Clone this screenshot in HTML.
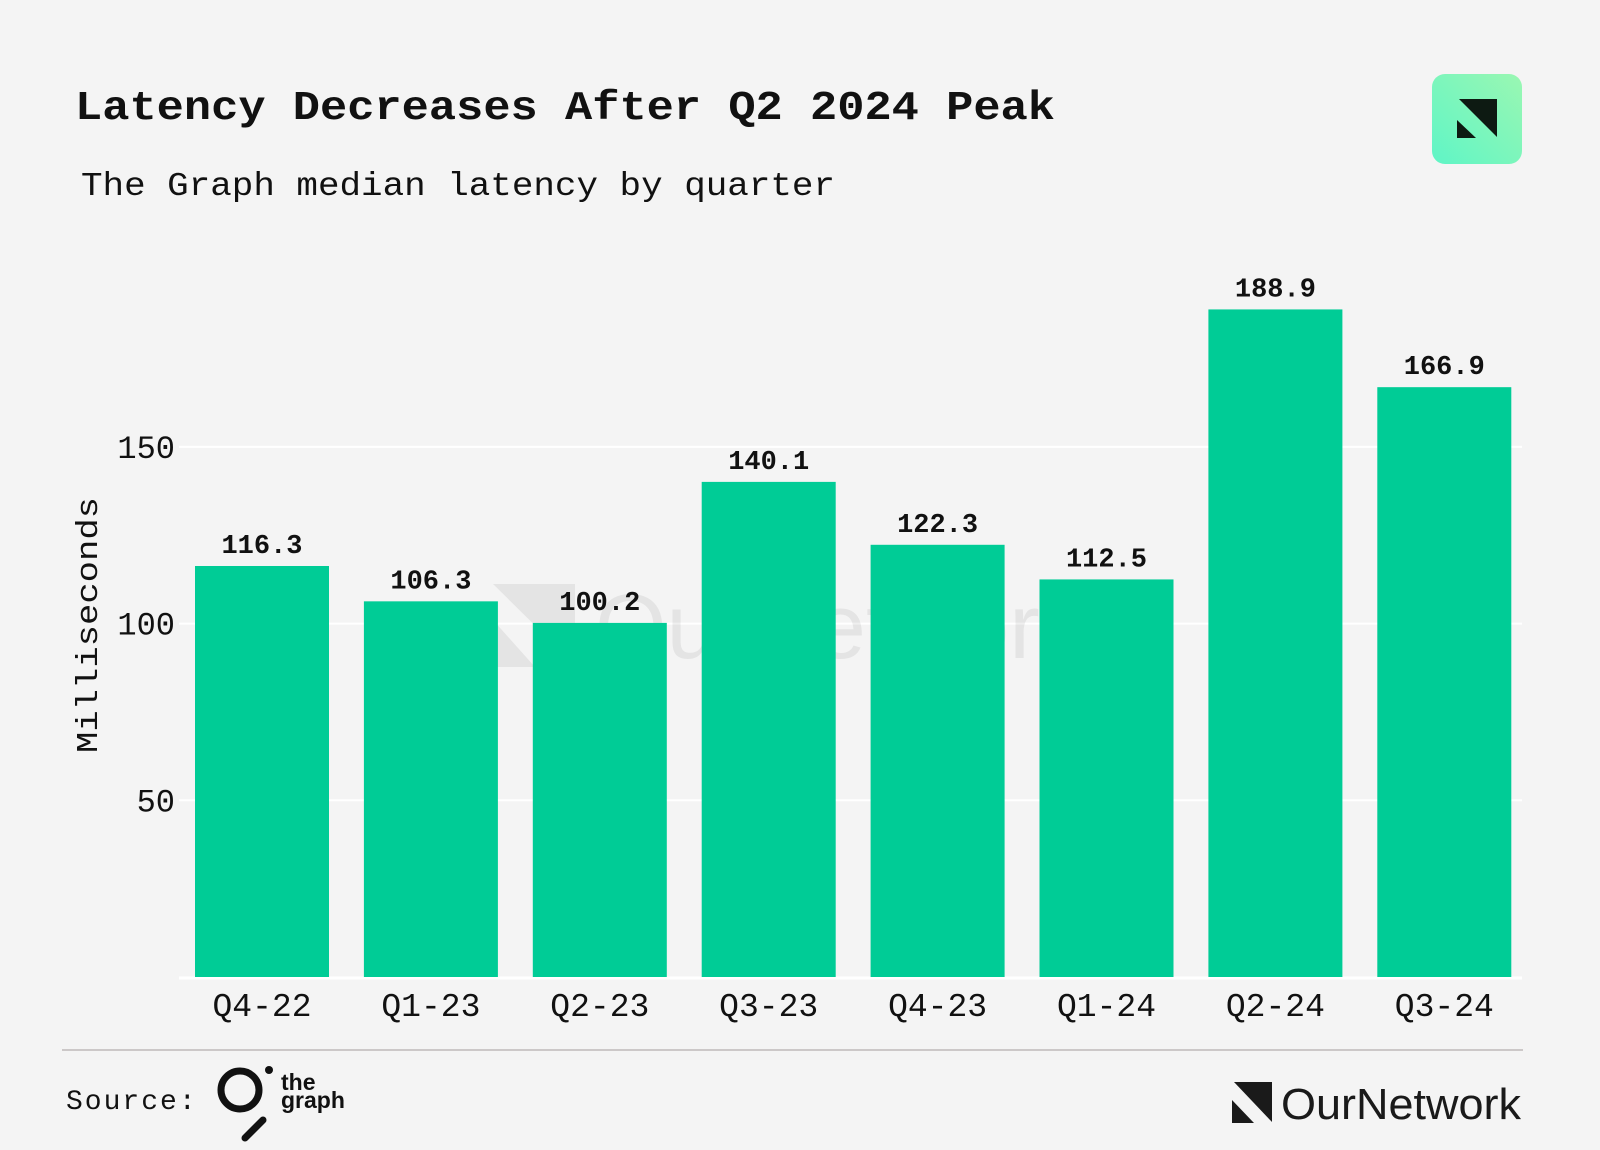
<!DOCTYPE html>
<html><head><meta charset="utf-8"><style>
html,body{margin:0;padding:0;background:#f4f4f4;}
svg{display:block;}
.mono{font-family:"Liberation Mono","DejaVu Sans Mono",monospace;}
.sans{font-family:"Liberation Sans","DejaVu Sans",sans-serif;}
</style></head><body>
<svg id="chart" width="1600" height="1150" viewBox="0 0 1600 1150">
<rect x="0" y="0" width="1600" height="1150" fill="#f4f4f4"/>
<text class="mono" x="75" y="119" font-size="41" font-weight="bold" fill="#111" textLength="980" lengthAdjust="spacingAndGlyphs">Latency Decreases After Q2 2024 Peak</text>
<text class="mono" x="81" y="195" font-size="33" fill="#111" textLength="754" lengthAdjust="spacingAndGlyphs">The Graph median latency by quarter</text>
<g>
<defs><linearGradient id="lg" x1="0" y1="1" x2="1" y2="0"><stop offset="0" stop-color="#5ff5c6"/><stop offset="1" stop-color="#9af7b2"/></linearGradient></defs>
<rect x="1432" y="74" width="90" height="90" rx="13" fill="url(#lg)"/>
<polygon points="1459,99 1497,99 1497,137" fill="#0d1a12"/>
<polygon points="1457,120 1457,138 1476,138" fill="#0d1a12"/>
</g>
<g id="grid"></g>
<g id="wm" opacity="0.06">
<polygon points="493,584 575,584 575,665" fill="#000"/>
<polygon points="493,620 493,667 535,667" fill="#000"/>
<text class="sans" x="595" y="658" font-size="92" fill="#000">OurNetwork</text>
</g>
<g id="bars"></g>
<g id="yticks"></g>
<g id="xticks"></g>
<text class="mono" transform="translate(97,625) rotate(-90)" text-anchor="middle" font-size="31" fill="#111" textLength="256" lengthAdjust="spacingAndGlyphs">Milliseconds</text>
<line x1="62" y1="1050" x2="1523" y2="1050" stroke="#ccc8c8" stroke-width="2"/>
<text class="mono" x="66" y="1109" font-size="28" fill="#111" letter-spacing="2">Source:</text>
<g>
<circle cx="240" cy="1090" r="19" fill="none" stroke="#111" stroke-width="7"/>
<circle cx="269" cy="1070" r="4" fill="#111"/>
<line x1="263" y1="1120" x2="245" y2="1138" stroke="#111" stroke-width="7" stroke-linecap="round"/>
<text class="sans" x="281" y="1090" font-size="23" font-weight="bold" fill="#111">the</text>
<text class="sans" x="281" y="1108" font-size="23" font-weight="bold" fill="#111">graph</text>
</g>
<g>
<polygon points="1234,1082 1272,1082 1272,1122" fill="#1a1a1a"/>
<polygon points="1232,1100 1232,1123 1254,1123" fill="#1a1a1a"/>
<text class="sans" x="1281" y="1119" font-size="44" fill="#1a1a1a" textLength="240" lengthAdjust="spacingAndGlyphs">OurNetwork</text>
</g>
</svg>
<script>
const categories = ["Q4-22","Q1-23","Q2-23","Q3-23","Q4-23","Q1-24","Q2-24","Q3-24"];
const values = [116.3,106.3,100.2,140.1,122.3,112.5,188.9,166.9];
const yTicks = [50,100,150];
const NS="http://www.w3.org/2000/svg";
const y0=977, pxPerUnit=176.7/50;
function yScale(v){return y0 - v*pxPerUnit;}
const firstX=195, step=168.9, bw=134;
function xScale(i){return firstX + i*step;}
function mk(tag,attrs,parent){const e=document.createElementNS(NS,tag);for(const k in attrs)e.setAttribute(k,attrs[k]);parent.appendChild(e);return e;}
const grid=document.getElementById('grid'),bars=document.getElementById('bars'),yt=document.getElementById('yticks'),xt=document.getElementById('xticks');
yTicks.forEach(t=>{
  const l=mk('line',{x1:179,x2:1522,y1:yScale(t),y2:yScale(t),stroke:'#ffffff','stroke-width':2},grid);
  
  
  const tx=mk('text',{x:175,y:yScale(t)+11,'text-anchor':'end','font-size':32,fill:'#111',class:'mono'},yt);
  tx.textContent=String(t);
  
  
});
const base=mk('line',{x1:179,x2:1522,y1:y0+1,y2:y0+1,stroke:'#ffffff','stroke-width':3},grid);


categories.forEach((c,i)=>{
  const v=values[i];
  const r=mk('rect',{x:xScale(i),y:yScale(v),width:bw,height:y0-yScale(v),fill:'#00cc96'},bars);
  
  
  const lb=mk('text',{x:xScale(i)+bw/2,y:yScale(v)-13,'text-anchor':'middle','font-size':27,'font-weight':'bold',fill:'#111',class:'mono'},bars);
  lb.textContent=v.toFixed(1);
  
  
  const xl=mk('text',{x:xScale(i)+bw/2,y:1016,'text-anchor':'middle','font-size':33,fill:'#111',class:'mono'},xt);
  xl.textContent=c;
  
  
});
</script>
</body></html>
